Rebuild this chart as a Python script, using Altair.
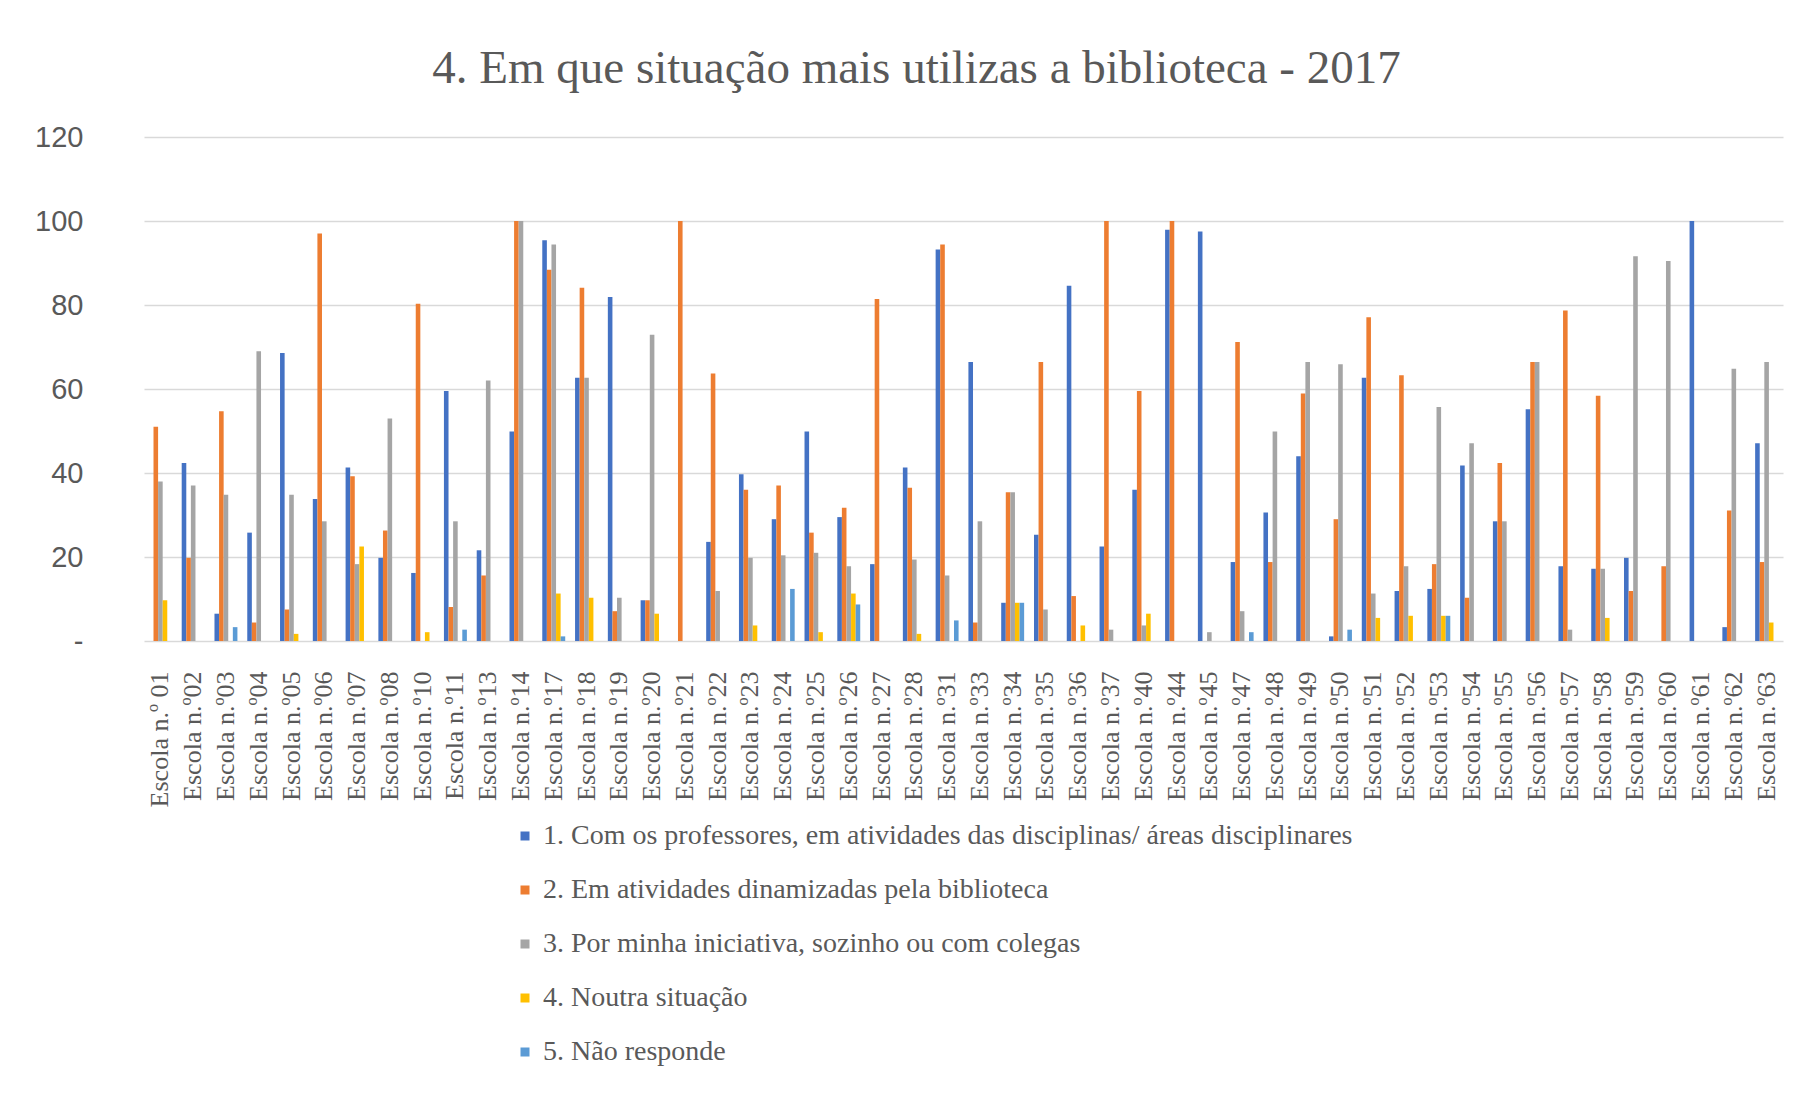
import altair as alt
import pandas as pd

schools = [
    "Escola n.º 01", "Escola n.º02", "Escola n.º03", "Escola n.º04", "Escola n.º05",
    "Escola n.º06", "Escola n.º07", "Escola n.º08", "Escola n.º10", "Escola n.º11",
    "Escola n.º13", "Escola n.º14", "Escola n.º17", "Escola n.º18", "Escola n.º19",
    "Escola n.º20", "Escola n.º21", "Escola n.º22", "Escola n.º23", "Escola n.º24",
    "Escola n.º25", "Escola n.º26", "Escola n.º27", "Escola n.º28", "Escola n.º31",
    "Escola n.º33", "Escola n.º34", "Escola n.º35", "Escola n.º36", "Escola n.º37",
    "Escola n.º40", "Escola n.º44", "Escola n.º45", "Escola n.º47", "Escola n.º48",
    "Escola n.º49", "Escola n.º50", "Escola n.º51", "Escola n.º52", "Escola n.º53",
    "Escola n.º54", "Escola n.º55", "Escola n.º56", "Escola n.º57", "Escola n.º58",
    "Escola n.º59", "Escola n.º60", "Escola n.º61", "Escola n.º62", "Escola n.º63",
]

series_names = [
    "1. Com os professores, em atividades das disciplinas/ áreas disciplinares",
    "2. Em atividades dinamizadas pela biblioteca",
    "3. Por minha iniciativa, sozinho ou com colegas",
    "4. Noutra situação",
    "5. Não responde",
]

s1 = [0, 42.4, 6.5, 25.8, 68.6, 33.8, 41.3, 19.8, 16.2, 59.5,
      21.6, 49.9, 95.4, 62.7, 81.9, 9.7, 0, 23.6, 39.7, 29.0,
      49.9, 29.5, 18.3, 41.3, 93.2, 66.4, 9.1, 25.3, 84.6, 22.5,
      36.0, 97.9, 97.5, 18.8, 30.6, 44.0, 1.1, 62.7, 11.9, 12.4,
      41.8, 28.5, 55.2, 17.8, 17.2, 19.8, 0, 100, 3.3, 47.1]

s2 = [51.0, 19.8, 54.7, 4.4, 7.5, 97.0, 39.2, 26.3, 80.3, 8.1,
      15.6, 100, 88.4, 84.1, 7.1, 9.7, 100, 63.7, 36.0, 37.0,
      25.8, 31.7, 81.4, 36.5, 94.4, 4.4, 35.4, 66.4, 10.7, 100,
      59.5, 100, 0, 71.2, 18.8, 58.9, 29.0, 77.1, 63.3, 18.3,
      10.3, 42.4, 66.4, 78.7, 58.4, 11.9, 17.8, 0, 31.1, 18.8]

s3 = [38.0, 37.0, 34.8, 69.0, 34.8, 28.5, 18.3, 53.0, 0, 28.5,
      62.0, 100, 94.4, 62.7, 10.3, 72.9, 0, 11.9, 19.8, 20.4,
      21.0, 17.8, 0, 19.4, 15.6, 28.5, 35.4, 7.5, 0, 2.7,
      3.7, 0, 2.1, 7.1, 49.9, 66.4, 65.9, 11.3, 17.8, 55.7,
      47.1, 28.5, 66.4, 2.7, 17.2, 91.6, 90.5, 0, 64.8, 66.4]

s4 = [9.7, 0, 0, 0, 1.7, 0, 22.5, 0, 2.1, 0,
      0, 0, 11.3, 10.3, 0, 6.5, 0, 0, 3.7, 0,
      2.1, 11.3, 0, 1.7, 0, 0, 9.1, 0, 3.7, 0,
      6.5, 0, 0, 0, 0, 0, 0, 5.5, 6.0, 6.0,
      0, 0, 0, 0, 5.5, 0, 0, 0, 0, 4.4]

s5 = [0, 0, 3.3, 0, 0, 0, 0, 0, 0, 2.7,
      0, 0, 1.1, 0, 0, 0, 0, 0, 0, 12.4,
      0, 8.7, 0, 0, 4.9, 0, 9.1, 0, 0, 0,
      0, 0, 0, 2.1, 0, 0, 2.7, 0, 0, 6.0,
      0, 0, 0, 0, 0, 0, 0, 0, 0, 0]

y_ticks = [0, 20, 40, 60, 80, 100, 120]
colors = ["#4472C4", "#ED7D31", "#A5A5A5", "#FFC000", "#5B9BD5"]

rows = []
for i, sc in enumerate(schools):
    for name, vals in zip(series_names, [s1, s2, s3, s4, s5]):
        rows.append({"escola": sc, "serie": name, "valor": vals[i]})
df = pd.DataFrame(rows)

chart = alt.Chart(df).mark_bar().encode(
    x=alt.X(
        "escola:N", sort=schools,
        scale=alt.Scale(paddingInner=0.3, paddingOuter=0.15),
        axis=alt.Axis(
            title=None, labelAngle=-90, labelAlign="right", labelBaseline="middle",
            ticks=False, domain=False, labelPadding=30, labelFont="Liberation Serif",
            labelFontSize=26, labelColor="#595959", labelLimit=0, grid=False,
        ),
    ),
    xOffset=alt.XOffset("serie:N", sort=series_names, scale=alt.Scale(domain=series_names)),
    y=alt.Y(
        "valor:Q", scale=alt.Scale(domain=[0, 120]),
        axis=alt.Axis(
            values=y_ticks, title=None, domain=False, ticks=False, labelPadding=61,
            labelExpr="datum.value == 0 ? '-' : datum.label",
            labelFont="Liberation Sans", labelFontSize=29, labelColor="#595959",
            gridColor="#D9D9D9", gridWidth=1.5,
        ),
    ),
    color=alt.Color(
        "serie:N", sort=series_names,
        scale=alt.Scale(domain=series_names, range=colors),
        legend=alt.Legend(
            title=None, orient="none", legendX=367, legendY=685, direction="vertical",
            symbolType="square", symbolSize=81, symbolStrokeWidth=0,
            labelFont="Liberation Serif", labelFontSize=28, labelColor="#595959",
            rowPadding=26, labelLimit=0, padding=0, labelOffset=4,
        ),
    ),
).properties(
    width=1639, height=504,
    title=alt.TitleParams(
        "4. Em que situação mais utilizas a biblioteca  - 2017",
        font="Liberation Serif", fontSize=47, fontWeight="normal", color="#595959",
        anchor="middle", dx=-47, offset=30,
    ),
    padding={"left": 136, "top": 129, "right": 13, "bottom": 440},
    autosize=alt.AutoSizeParams(type="none"),
).configure_view(stroke=None)

chart.save("out.html", embed_options={"renderer": "svg", "actions": False})
